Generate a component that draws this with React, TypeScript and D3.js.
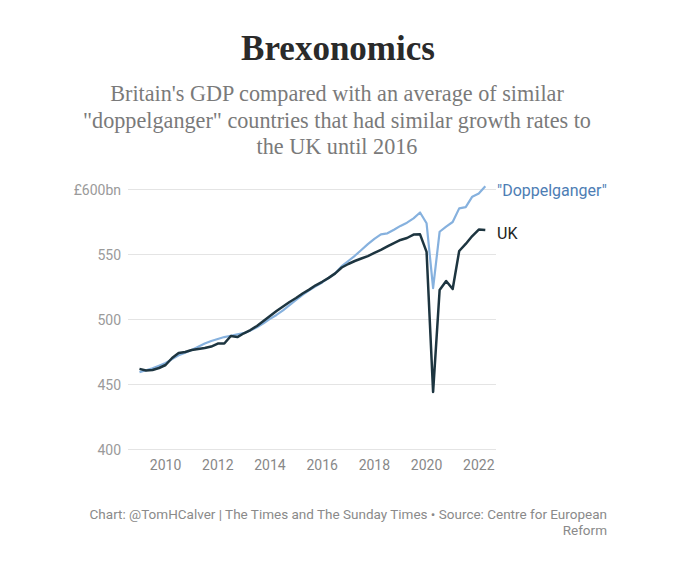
import React from "react";
import * as d3 from "d3";

const quarters: number[] = d3.range(54).map((i) => 2009 + i * 0.25);

const ukValues: number[] = [
  462.0, 460.8, 461.2, 462.7, 465.0, 470.4, 474.2, 475.0,
  476.5, 477.3, 478.1, 479.2, 481.5, 481.5, 487.3, 486.5,
  489.4, 491.9, 495.0, 498.8, 502.7, 506.5, 510.0, 513.5,
  516.5, 520.0, 523.0, 526.3, 529.0, 532.0, 535.5, 540.0,
  542.7, 545.0, 546.9, 548.8, 551.2, 553.5, 556.2, 558.8,
  561.2, 562.7, 565.3, 565.5, 552.0, 444.2, 522.7, 529.6,
  523.5, 552.7, 558.1, 564.2, 569.2, 568.8,
];

const doppelValues: number[] = [
  459.5, 461.0, 462.5, 464.5, 466.5, 469.5, 472.5, 474.5,
  476.5, 479.0, 481.5, 483.5, 485.0, 486.5, 487.5, 488.5,
  489.5, 491.5, 494.0, 497.0, 500.5, 503.5, 507.0, 511.0,
  515.0, 519.0, 522.5, 525.5, 528.5, 532.0, 535.5, 541.0,
  545.0, 549.0, 553.5, 558.0, 562.0, 565.5, 566.3, 569.0,
  572.0, 574.5, 577.8, 582.3, 574.0, 524.2, 567.5, 571.5,
  575.0, 585.5, 586.5, 594.5, 597.0, 602.5,
];

const yTicks: number[] = [400, 450, 500, 550, 600];
const xTicks: number[] = [2010, 2012, 2014, 2016, 2018, 2020, 2022];

const title = "Brexonomics";
const subtitleLines: string[] = [
  "Britain's GDP compared with an average of similar",
  "\"doppelganger\" countries that had similar growth rates to",
  "the UK until 2016",
];
const footerLines: string[] = [
  "Chart: @TomHCalver | The Times and The Sunday Times • Source: Centre for European",
  "Reform",
];

export default function App() {
  const W = 680;
  const H = 569;
  const x = d3.scaleLinear().domain([2008.56, 2022.66]).range([128, 496]);
  const y = d3.scaleLinear().domain([400, 600]).range([449.5, 189.5]);
  const line = d3
    .line<number>()
    .x((_, i) => x(quarters[i]))
    .y((v) => y(v));

  const sans = "Roboto, 'Noto Sans', sans-serif";
  const serif = "'Liberation Serif', 'DejaVu Serif', serif";

  return (
    <svg
      width={W}
      height={H}
      style={{ position: "absolute", left: 0, top: 0, background: "#fff" }}
    >
      <rect width={W} height={H} fill="#fff" />
      <text
        x={338}
        y={60}
        textAnchor="middle"
        fontFamily={serif}
        fontWeight="bold"
        fontSize={35}
        fill="#2a2a2a"
      >
        {title}
      </text>
      {subtitleLines.map((s, i) => (
        <text
          key={i}
          x={337}
          y={101 + i * 26.5}
          textAnchor="middle"
          fontFamily={serif}
          fontSize={22.2}
          fill="#7a7a7a"
        >
          {s}
        </text>
      ))}

      {yTicks.map((t) => (
        <g key={t}>
          <line
            x1={128}
            x2={496}
            y1={y(t)}
            y2={y(t)}
            stroke="#e4e4e4"
            strokeWidth={1}
          />
          <text
            x={121}
            y={y(t) + 5}
            textAnchor="end"
            fontFamily={sans}
            fontSize={14}
            fill="#9a9a9a"
          >
            {t === 600 ? "£600bn" : t}
          </text>
        </g>
      ))}

      {xTicks.map((t) => (
        <text
          key={t}
          x={x(t)}
          y={470}
          textAnchor="middle"
          fontFamily={sans}
          fontSize={14}
          fill="#888"
        >
          {t}
        </text>
      ))}

      <path
        d={line(doppelValues) || ""}
        fill="none"
        stroke="#86b1de"
        strokeWidth={2.2}
        strokeLinejoin="round"
      />
      <path
        d={line(ukValues) || ""}
        fill="none"
        stroke="#1d3540"
        strokeWidth={2.5}
        strokeLinejoin="round"
      />

      <text
        x={497}
        y={195.5}
        fontFamily={sans}
        fontSize={16}
        fill="#4d7db4"
      >
        "Doppelganger"
      </text>
      <text x={497} y={238.5} fontFamily={sans} fontSize={16} fill="#222">
        UK
      </text>

      {footerLines.map((s, i) => (
        <text
          key={i}
          x={607}
          y={518.5 + i * 16.5}
          textAnchor="end"
          fontFamily={sans}
          fontSize={13.5}
          fill="#8a8a8a"
        >
          {s}
        </text>
      ))}
    </svg>
  );
}
